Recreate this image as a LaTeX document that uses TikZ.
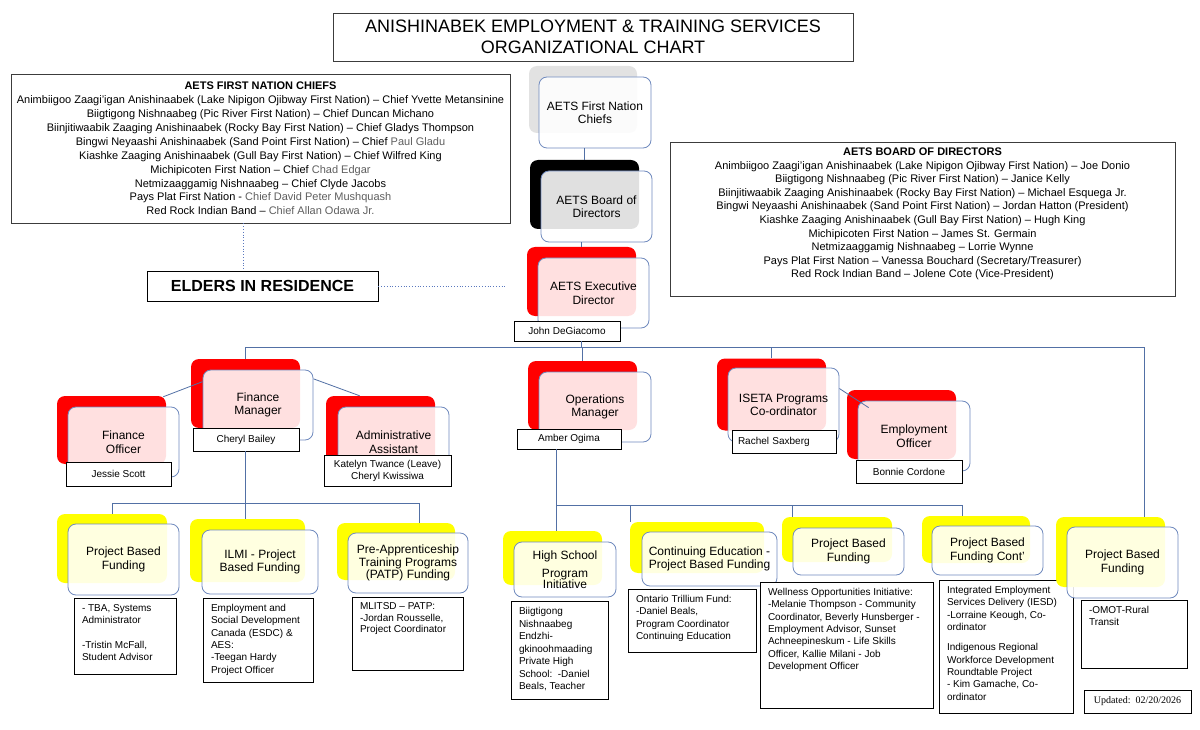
\documentclass[tikz,border=0pt]{standalone}
\usepackage{fontspec}
\setmainfont{Liberation Sans}
\newfontfamily\timesf{Liberation Serif}
\usetikzlibrary{calc}
\definecolor{connc}{RGB}{82,112,165}
\definecolor{frontb}{RGB}{112,138,190}
\definecolor{redB}{RGB}{255,0,0}
\definecolor{yelB}{RGB}{255,255,0}
\definecolor{grayB}{RGB}{226,226,226}
\definecolor{chiefg}{RGB}{95,95,95}
\definecolor{boxline}{RGB}{60,60,60}
\definecolor{dotb}{RGB}{90,120,190}
\newcommand\infotext[3]{\parbox[c][#2][t]{#1}{\begin{tabular}[t]{@{}l@{}}#3\end{tabular}}}
\begin{document}
\begin{tikzpicture}[x=1pt,y=-1pt,
  sz/.style 2 args={minimum width=#1pt, minimum height=#2pt},
  backbox/.style={rounded corners=8pt, inner sep=0pt},
  frontbox/.style={draw=frontb, line width=0.8pt, fill=white, fill opacity=0.88, text opacity=1, rounded corners=8pt, inner sep=2pt, align=center, font=\fontsize{12}{13.5}\selectfont},
  namebox/.style={draw=black, line width=0.7pt, fill=white, inner sep=2pt, align=center, font=\fontsize{10}{12}\selectfont},
  infobox/.style={draw=black, line width=0.8pt, fill=white, inner xsep=8pt, inner ysep=5pt, font=\fontsize{10}{12.3}\selectfont},
  link/.style={draw=connc, line width=0.8pt},
  dotline/.style={draw=dotb, line width=0.8pt, dotted},
  listbox/.style={draw=boxline, line width=0.9pt},
]
\fill[white] (0,0) rectangle (1200,730);
\useasboundingbox (0,0) rectangle (1200,730);

% title
\node[listbox, sz={520}{48}, align=center, font=\fontsize{18}{21.5}\selectfont] (title) at (593,37)
  {ANISHINABEK EMPLOYMENT \& TRAINING SERVICES\\ORGANIZATIONAL CHART};

% chiefs list
\node[listbox, sz={499}{149}, align=center, inner sep=1pt, font=\fontsize{11}{13.9}\selectfont] (chiefsInfo) at (260.5,148.5)
  {\textbf{AETS FIRST NATION CHIEFS}\\
   Animbiigoo Zaagi'igan Anishinaabek (Lake Nipigon Ojibway First Nation) – Chief Yvette Metansinine\\
   Biigtigong Nishnaabeg (Pic River First Nation) – Chief Duncan Michano\\
   Biinjitiwaabik Zaaging Anishinaabek (Rocky Bay First Nation) – Chief Gladys Thompson\\
   Bingwi Neyaashi Anishinaabek (Sand Point First Nation) – Chief \textcolor{chiefg}{Paul Gladu}\\
   Kiashke Zaaging Anishinaabek (Gull Bay First Nation) – Chief Wilfred King\\
   Michipicoten First Nation – Chief \textcolor{chiefg}{Chad Edgar}\\
   Netmizaaggamig Nishnaabeg – Chief Clyde Jacobs\\
   Pays Plat First Nation - \textcolor{chiefg}{Chief David Peter Mushquash}\\
   Red Rock Indian Band – \textcolor{chiefg}{Chief Allan Odawa Jr.}};

% board list
\node[listbox, sz={505}{154}] (boardInfo) at (922.5,219) {};
\node[align=center, inner sep=0pt, font=\fontsize{11}{13.6}\selectfont] (boardText) at (922.5,214)
  {\textbf{AETS BOARD OF DIRECTORS}\\
   Animbiigoo Zaagi'igan Anishinaabek (Lake Nipigon Ojibway First Nation) – Joe Donio\\
   Biigtigong Nishnaabeg (Pic River First Nation) – Janice Kelly\\
   Biinjitiwaabik Zaaging Anishinaabek (Rocky Bay First Nation) – Michael Esquega Jr.\\
   Bingwi Neyaashi Anishinaabek (Sand Point First Nation) – Jordan Hatton (President)\\
   Kiashke Zaaging Anishinaabek (Gull Bay First Nation) – Hugh King\\
   Michipicoten First Nation – James St. Germain\\
   Netmizaaggamig Nishnaabeg – Lorrie Wynne\\
   Pays Plat First Nation – Vanessa Bouchard (Secretary/Treasurer)\\
   Red Rock Indian Band – Jolene Cote (Vice-President)};

% elders
\node[draw=black, line width=0.9pt, sz={231}{30}, font=\fontsize{16}{18}\selectfont\bfseries] (elders) at (262.5,286) {ELDERS IN RESIDENCE};

% centre column
\node[backbox, fill=grayB, sz={108}{67}] (chB) at (583,99.5) {};
\node[frontbox, sz={112}{71}] (chF) at (595,112.5) {AETS First Nation\\Chiefs};
\node[backbox, fill=black, sz={109}{69}] (boB) at (584.5,194.5) {};
\node[frontbox, sz={111}{71}] (boF) at (596.5,206.5) {AETS Board of\\Directors};
\node[backbox, fill=redB, sz={109}{69}] (exB) at (581.5,281.5) {};
\node[frontbox, sz={111}{70}] (exF) at (593.5,293) {AETS Executive\\Director};
\node[namebox, sz={106}{20}] (jdN) at (567,331) {John DeGiacomo};

% second row
\node[backbox, fill=redB, sz={109}{69}] (fmB) at (245.5,393.5) {};
\node[frontbox, sz={110}{70}] (fmF) at (258,405) {Finance\\Manager};
\node[namebox, sz={106}{23}] (fmN) at (246,439.5) {Cheryl Bailey};

\node[backbox, fill=redB, sz={109}{68}] (foB) at (111.5,430) {};
\node[frontbox, sz={111}{70}] (foF) at (123.5,442) {Finance\\Officer};
\node[namebox, sz={105}{24}] (foN) at (118.5,474) {Jessie Scott};

\node[backbox, fill=redB, sz={109}{68}] (aaB) at (380.5,430) {};
\node[frontbox, sz={111}{70}] (aaF) at (393.5,442) {Administrative\\Assistant};
\node[namebox, sz={127}{31}] (aaN) at (387.5,470.5) {Katelyn Twance (Leave)\\Cheryl Kwissiwa};

\node[backbox, fill=redB, sz={109}{69}] (omB) at (582.5,395.5) {};
\node[frontbox, sz={112}{70}] (omF) at (595,407) {Operations\\Manager};
\node[namebox, sz={104}{20}] (omN) at (569,439) {Amber Ogima};

\node[backbox, fill=redB, sz={109}{72}] (isB) at (771.5,394.5) {};
\node[frontbox, sz={111}{74}] (isF) at (783.5,405) {ISETA Programs\\Co-ordinator};
\node[namebox, sz={104}{23}, text width=92pt, align=left] (isN) at (784,441.5) {Rachel Saxberg};

\node[backbox, fill=redB, sz={109}{69}] (eoB) at (901.5,424.5) {};
\node[frontbox, sz={112}{70}] (eoF) at (914,436) {Employment\\Officer};
\node[namebox, sz={106}{23}] (eoN) at (909,471.5) {Bonnie Cordone};

% bottom row
\node[backbox, fill=yelB, sz={110}{69}] (pb1B) at (112,548.5) {};
\node[frontbox, sz={111}{71}] (pb1F) at (123.5,559.5) {Project Based\\Funding};
\node[infobox] (pb1I) at (125,636) {\infotext{86pt}{66pt}{- TBA, Systems\\Administrator\\ \\-Tristin McFall,\\Student Advisor}};

\node[backbox, fill=yelB, sz={115}{63}] (ilB) at (247.5,550.5) {};
\node[frontbox, sz={116}{64}] (ilF) at (260,562) {ILMI - Project\\Based Funding};
\node[infobox] (ilI) at (258,640) {\infotext{94pt}{74pt}{Employment and\\Social Development\\Canada (ESDC) \&\\AES:\\-Teegan Hardy\\Project Officer}};

\node[backbox, fill=yelB, sz={118}{57}] (paB) at (396,551.5) {};
\node[frontbox, sz={120}{60}, font=\fontsize{12}{12.5}\selectfont] (paF) at (408,563) {Pre-Apprenticeship\\Training Programs\\(PATP) Funding};
\node[infobox, font=\fontsize{10}{11.2}\selectfont] (paI) at (407.5,633.5) {\infotext{95pt}{63pt}{MLITSD – PATP:\\-Jordan Rousselle,\\Project Coordinator}};

\node[backbox, fill=yelB, sz={99}{54}] (hsB) at (552.5,558) {};
\node[frontbox, sz={102}{55}, font=\fontsize{12}{11.5}\selectfont] (hsF) at (565,569.5) {High School\\[6.5pt]Program\\Initiative};
\node[infobox, font=\fontsize{10}{12.5}\selectfont] (hsI) at (559.5,650) {\infotext{81pt}{88pt}{Biigtigong\\Nishnaabeg\\Endzhi-\\gkinoohmaading\\Private High\\School:\ \ -Daniel\\Beals, Teacher}};

\node[backbox, fill=yelB, sz={134}{51}] (ceB) at (697,547.5) {};
\node[frontbox, sz={135}{54}] (ceF) at (709.5,559) {Continuing Education -\\Project Based Funding};
\node[infobox] (ceI) at (692,620.5) {\infotext{112pt}{53pt}{Ontario Trillium Fund:\\-Daniel Beals,\\Program Coordinator\\Continuing Education}};

\node[backbox, fill=yelB, sz={110}{45}] (pbwB) at (837,539.5) {};
\node[frontbox, sz={111}{47}] (pbwF) at (848.5,551.5) {Project Based\\Funding};
\node[infobox] (pbwI) at (846.5,645) {\infotext{157pt}{116pt}{Wellness Opportunities Initiative:\\-Melanie Thompson - Community\\Coordinator, Beverly Hunsberger -\\Employment Advisor, Sunset\\Achneepineskum - Life Skills\\Officer, Kallie Milani - Job\\Development Officer}};

\node[backbox, fill=yelB, sz={108}{47}] (pbcB) at (976,539.5) {};
\node[frontbox, sz={111}{49}] (pbcF) at (987.5,550.5) {Project Based\\Funding Cont'};
\node[infobox] (pbcI) at (1006,646.5) {\infotext{118pt}{123pt}{Integrated Employment\\Services Delivery (IESD)\\-Lorraine Keough, Co-\\ordinator\\[8pt]Indigenous Regional\\Workforce Development\\Roundtable Project\\- Kim Gamache, Co-\\ordinator}};

\node[backbox, fill=yelB, sz={109}{70}] (pbrB) at (1110.5,552) {};
\node[frontbox, sz={111}{71}] (pbrF) at (1122.5,562.5) {Project Based\\Funding};
\node[infobox] (pbrI) at (1134,634) {\infotext{90pt}{58pt}{-OMOT-Rural\\Transit}};

\node[draw=black, line width=0.8pt, sz={107}{23}, font=\timesf\fontsize{10}{12}\selectfont] (upd) at (1137.5,701.5) {Updated:\ \ 02/20/2026};

% dotted elder links
\coordinate (eldTop) at (243,271);
\draw[dotline] (eldTop |- chiefsInfo.south) -- (eldTop);
\draw[dotline] (elders.east) -- ($(elders.east)+(127,0)$);

% centre connectors
\draw[link] (chF.south -| boB.north) -- (boB.north);
\draw[link] (boF.south -| exB.north) -- (exB.north);
\coordinate (busE) at (1144,347);
\draw[link] (exB.south |- jdN.south) -- (exB.south |- busE);
\draw[link] (fmB.north) |- (busE) -- (busE |- pbrB.north);
\draw[link] (omB.north) -- (omB.north |- busE);
\draw[link] (isB.north) -- (isB.north |- busE);

% second row side links
\draw[link] ($(foB.north east)+(-3,1)$) -- ($(fmF.north west)!0.17!(fmF.south west)$);
\draw[link] ($(fmF.north east)!0.13!(fmF.south east)$) -- ($(aaB.north west)!0.31!(aaB.north east)$);
\draw[link] ($(isF.north east)!0.28!(isF.south east)$) -- ($(eoF.north west)+(11,7)$);

% bottom left bus
\coordinate (busA) at (419,503);
\draw[link] (fmB.south |- fmN.south) -- (fmB.south |- ilB.north);
\draw[link] (pb1B.north) |- (busA) -- (busA |- paB.north);

% bottom right bus
\coordinate (omDrop) at ($(omN.south)+(-13,0)$);
\coordinate (busB) at (962,505);
\draw[link] (omDrop) -- (omDrop |- hsB.north);
\draw[link] (omDrop |- busB) -- (busB) -- (busB |- pbcB.north);
\coordinate (ceDrop) at (630,505);
\draw[link] (ceDrop) -- (ceDrop |- ceB.north);
\coordinate (pbwDrop) at (792,505);
\draw[link] (pbwDrop) -- (pbwDrop |- pbwB.north);
\end{tikzpicture}
\end{document}
